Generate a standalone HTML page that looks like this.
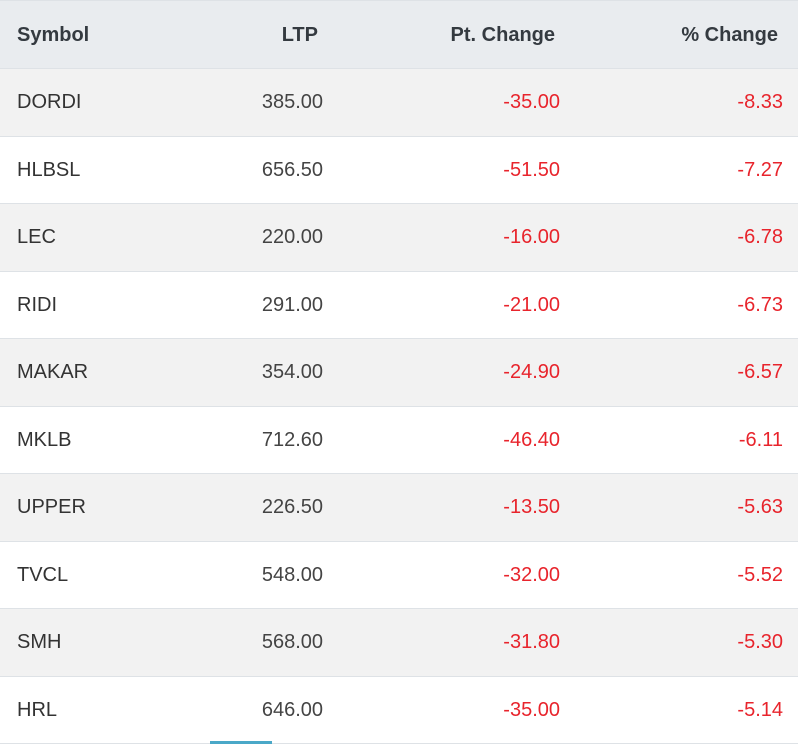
<!DOCTYPE html>
<html><head><meta charset="utf-8"><style>
html,body{margin:0;padding:0;width:798px;height:744px;overflow:hidden;background:#fff;font-family:"Liberation Sans",sans-serif;}
.row{position:absolute;left:0;width:798px;border-bottom:1px solid #dee2e6;box-sizing:border-box;}
.c{position:absolute;font-size:20px;line-height:24px;}
.s{left:17px;color:#333;}
.l{right:475px;color:#444;text-align:right;}
.p{right:238px;color:#e8242c;text-align:right;}
.q{right:15px;color:#e8242c;text-align:right;}
.h{background:#e9ecef;border-top:1px solid #dee2e6;}
.h .c{font-weight:bold;color:#343a40;}
</style></head><body>
<div class="row h" style="top:0;height:69px">
<div class="c s" style="top:22px">Symbol</div>
<div class="c l" style="top:22px;right:480px;color:#343a40">LTP</div>
<div class="c p" style="top:22px;right:243px;color:#343a40">Pt. Change</div>
<div class="c q" style="top:22px;right:20px;color:#343a40">% Change</div>
</div>
<div id="rows"></div>
<div style="position:absolute;left:210px;top:741px;width:62px;height:3px;background:#4aa8c8"></div>
<script>
var d=[["DORDI","385.00","-35.00","-8.33"],["HLBSL","656.50","-51.50","-7.27"],["LEC","220.00","-16.00","-6.78"],["RIDI","291.00","-21.00","-6.73"],["MAKAR","354.00","-24.90","-6.57"],["MKLB","712.60","-46.40","-6.11"],["UPPER","226.50","-13.50","-5.63"],["TVCL","548.00","-32.00","-5.52"],["SMH","568.00","-31.80","-5.30"],["HRL","646.00","-35.00","-5.14"]];
var h="";
for(var i=0;i<d.length;i++){var t=69+i*67.5;var bg=i%2==0?"#f2f2f2":"#fff";
h+='<div class="row" style="top:'+t+'px;height:67.5px;background:'+bg+'"><div class="c s" style="top:21px">'+d[i][0]+'</div><div class="c l" style="top:21px">'+d[i][1]+'</div><div class="c p" style="top:21px">'+d[i][2]+'</div><div class="c q" style="top:21px">'+d[i][3]+'</div></div>';}
document.getElementById("rows").innerHTML=h;
</script>
</body></html>
